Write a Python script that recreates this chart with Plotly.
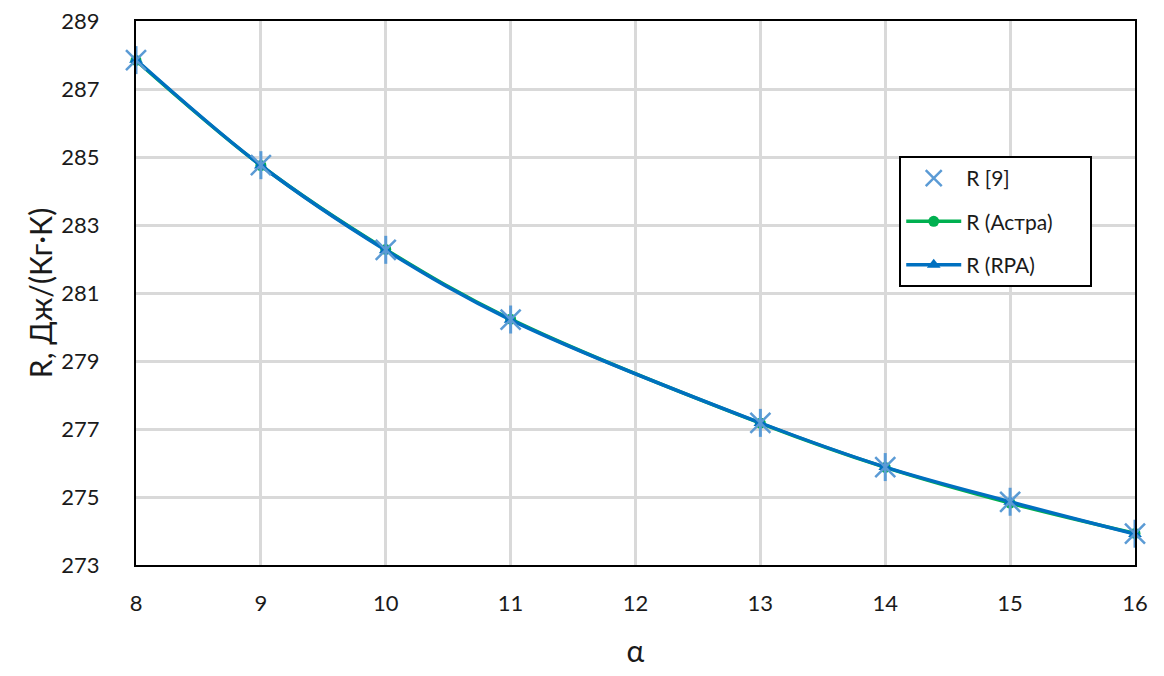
import plotly.graph_objects as go


ALPHA = [8, 9, 10, 11, 13, 14, 15, 16]

R_REF9 = [287.85, 284.76, 282.27, 280.22, 277.18, 275.88, 274.86, 273.92]
R_ASTRA = [287.84, 284.75, 282.28, 280.23, 277.17, 275.87, 274.82, 273.93]
R_RPA = [287.86, 284.75, 282.26, 280.21, 277.18, 275.88, 274.86, 273.91]

X_TICKS = list(range(8, 17))
Y_TICKS = list(range(273, 290, 2))

FONT = "Lato, 'Open Sans', sans-serif"
STAR = "#5B9BD5"
PAD = "\u00a0" * 6


fig = go.Figure()

fig.add_trace(
    go.Scatter(
        x=ALPHA,
        y=R_ASTRA,
        name="R (Астра)" + PAD,
        mode="lines+markers",
        line=dict(color="#00B050", width=3.5, shape="spline"),
        marker=dict(symbol="circle", size=11, color="#00B050"),
        legendgroup="b",
        legendrank=2,
        cliponaxis=False,
    )
)

fig.add_trace(
    go.Scatter(
        x=ALPHA,
        y=R_RPA,
        name="R (RPA)" + PAD,
        mode="lines+markers",
        line=dict(color="#0070C0", width=3.5, shape="spline"),
        marker=dict(symbol="triangle-up", size=12, color="#0070C0"),
        legendgroup="c",
        legendrank=3,
        cliponaxis=False,
    )
)

# star marker: an X with a vertical stroke
fig.add_trace(
    go.Scatter(
        x=ALPHA,
        y=R_REF9,
        name="R [9]" + PAD,
        mode="markers",
        marker=dict(
            symbol="x-thin-open",
            size=20,
            color=STAR,
            line=dict(color=STAR, width=2.5),
        ),
        legendgroup="a",
        legendrank=1,
        cliponaxis=False,
    )
)

fig.add_trace(
    go.Scatter(
        x=ALPHA,
        y=R_REF9,
        mode="markers",
        marker=dict(
            symbol="line-ns-open",
            size=20,
            color=STAR,
            line=dict(color=STAR, width=3),
        ),
        showlegend=False,
        hoverinfo="skip",
        cliponaxis=False,
    )
)

fig.update_layout(
    width=1148,
    height=660,
    margin=dict(l=128, r=21, t=13, b=103, autoexpand=False),
    paper_bgcolor="white",
    plot_bgcolor="white",
    font=dict(family=FONT, color="#1a1a1a"),
    legend=dict(
        x=0.764,
        y=0.752,
        xanchor="left",
        yanchor="top",
        bgcolor="white",
        bordercolor="black",
        borderwidth=2,
        font=dict(size=21, family=FONT, color="#1a1a1a"),
        traceorder="grouped",
        tracegroupgap=13,
        itemwidth=55,
    ),
    xaxis=dict(
        range=[8, 16],
        tickvals=X_TICKS,
        tickfont=dict(size=22),
        ticklabelstandoff=18,
        ticklabeloverflow="allow",
        showgrid=True,
        gridcolor="#D9D9D9",
        gridwidth=3,
        zeroline=False,
        showline=True,
        linecolor="black",
        linewidth=2,
        mirror=True,
        ticks="",
        automargin=False,
        title=dict(text="α", font=dict(size=30), standoff=26),
    ),
    yaxis=dict(
        range=[273, 289],
        tickvals=Y_TICKS,
        tickfont=dict(size=22),
        ticklabelstandoff=30,
        ticklabeloverflow="allow",
        showgrid=True,
        gridcolor="#D9D9D9",
        gridwidth=3,
        zeroline=False,
        showline=True,
        linecolor="black",
        linewidth=2,
        mirror=True,
        ticks="",
        automargin=False,
        title=dict(text="R, Дж/(Кг·К)", font=dict(size=30), standoff=0),
    ),
)

fig.write_html("out.html")
